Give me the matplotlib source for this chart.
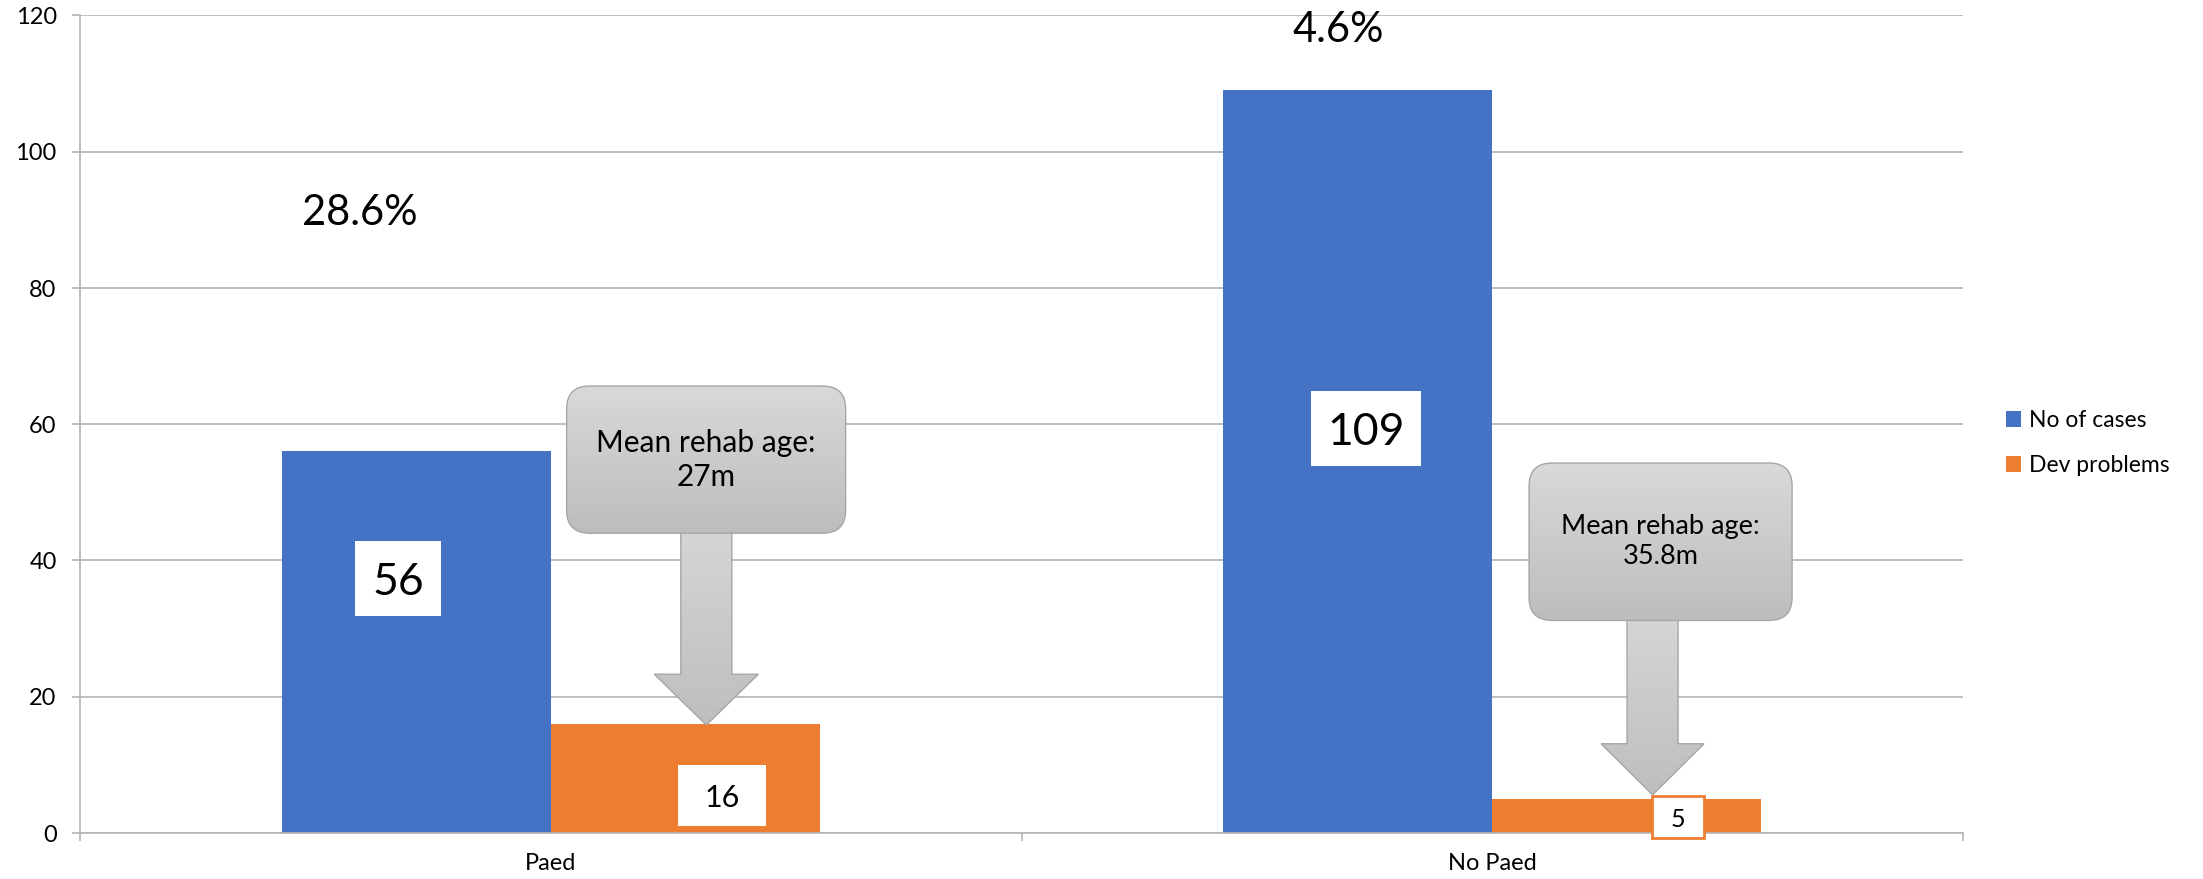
import numpy as np
import matplotlib
matplotlib.use("Agg")
import matplotlib.pyplot as plt
from matplotlib.patches import FancyBboxPatch, Polygon, Rectangle
from matplotlib.colors import LinearSegmentedColormap

# ---------------- data ----------------
categories = ["Paed", "No Paed"]
series_names = ["No of cases", "Dev problems"]
no_of_cases = [56, 109]
dev_problems = [16, 5]
pct_labels = ["28.6%", "4.6%"]
callout_texts = ["Mean rehab age:\n27m", "Mean rehab age:\n35.8m"]
yticks = [0, 20, 40, 60, 80, 100, 120]

# ---------------- style ----------------
plt.rcParams["font.family"] = ["Lato", "DejaVu Sans"]
BLUE = "#4472C4"
ORANGE = "#ED7D31"
GRID = "#B4B4B4"

W, H, DPI = 2203, 879, 100
fig = plt.figure(figsize=(W / DPI + 0.001, H / DPI + 0.001), dpi=DPI)
L, R, B, T = 80, 1963, 833, 15.5  # plot area in pixels
ax = fig.add_axes([L / W, 1 - B / H, (R - L) / W, (B - T) / H])

x = np.arange(len(categories))
bw = 1 / 3.5  # gap width 150%
b1 = ax.bar(x - bw / 2, no_of_cases, bw, color=BLUE, label=series_names[0], zorder=2)
b2 = ax.bar(x + bw / 2, dev_problems, bw, color=ORANGE, label=series_names[1], zorder=2)

ax.set_xlim(-0.5, len(categories) - 0.5)
ax.set_ylim(0, 120)
PXX = (R - L) / len(categories)   # pixels per x unit
PXY = (B - T) / 120.0             # pixels per y unit

# axes styling
for s in ["top", "right"]:
    ax.spines[s].set_visible(False)
for s in ["left", "bottom"]:
    ax.spines[s].set_color(GRID)
    ax.spines[s].set_linewidth(1.2)
ax.set_yticks(yticks)
ax.yaxis.grid(True, color=GRID, lw=1.2)
ax.set_axisbelow(True)
ax.tick_params(axis="y", length=5.8, color=GRID, width=1.2, pad=11, labelsize=17)
ax.set_xticks(x, categories)
ax.tick_params(axis="x", which="major", length=0, pad=14, labelsize=17)
ax.set_xticks(np.arange(len(categories) + 1) - 0.5, minor=True)
ax.tick_params(axis="x", which="minor", length=5.8, color=GRID, width=1.2)

# ---------------- callouts ----------------
def gradient_fill(patch, extent, c_top, c_bot, z):
    cmap = LinearSegmentedColormap.from_list("g", [c_top, c_bot])
    grad = np.linspace(0, 1, 256).reshape(-1, 1)
    im = ax.imshow(grad, extent=extent, origin="upper", aspect="auto",
                   cmap=cmap, interpolation="bilinear", zorder=z)
    im.set_clip_path(patch)


def callout(box_cx, box_wpx, box_top, box_bot, arr_cx, shaft_px, head_px,
            head_base, tip_y, text, fs):
    sw = shaft_px / PXX / 2
    hw = head_px / PXX / 2
    pts = [(arr_cx - sw, box_bot + 1), (arr_cx + sw, box_bot + 1),
           (arr_cx + sw, head_base), (arr_cx + hw, head_base),
           (arr_cx, tip_y), (arr_cx - hw, head_base), (arr_cx - sw, head_base)]
    arr = Polygon(pts, closed=True, facecolor="none", edgecolor="#A6A6A6",
                  lw=1.0, zorder=3.2)
    ax.add_patch(arr)
    gradient_fill(arr, [arr_cx - hw, arr_cx + hw, tip_y, box_bot + 1],
                  "#D6D6D6", "#BEBEBE", 3.1)
    bw_ = box_wpx / PXX
    rad = 23 / PXX
    box = FancyBboxPatch((box_cx - bw_ / 2, box_bot), bw_, box_top - box_bot,
                         boxstyle=f"round,pad=0,rounding_size={rad}",
                         mutation_aspect=PXX / PXY,
                         facecolor="none", edgecolor="#A6A6A6", lw=1.0, zorder=3.4)
    ax.add_patch(box)
    gradient_fill(box, [box_cx - bw_ / 2, box_cx + bw_ / 2, box_bot, box_top],
                  "#D9D9D9", "#BDBDBD", 3.3)
    ax.text(box_cx, (box_top + box_bot) / 2, text, ha="center", va="center",
            fontsize=fs, linespacing=1.25, color="black", zorder=3.5)


callout(0.1650, 279, 65.6, 44.0, 0.1652, 51, 104, 23.3, 15.85, callout_texts[0], 21.5)
callout(1.1787, 263, 54.3, 31.2, 1.1702, 51, 103, 13.1, 5.6, callout_texts[1], 19.5)

# ---------------- labels ----------------
def boxed(xc, yc, wpx, hpx, txt, fs, edge=None):
    w = wpx / PXX
    h = hpx / PXY
    ax.add_patch(Rectangle((xc - w / 2, yc - h / 2), w, h, facecolor="white",
                           edgecolor=edge if edge else "none",
                           lw=2 if edge else 0, zorder=4, clip_on=False))
    ax.text(xc, yc, txt, ha="center", va="center_baseline", fontsize=fs,
            zorder=5, clip_on=False)


boxed(-0.162, 37.4, 86, 75, str(no_of_cases[0]), 32)
boxed(0.866, 59.4, 110, 75, str(no_of_cases[1]), 32)
boxed(0.182, 5.5, 88, 61, str(dev_problems[0]), 22)
boxed(1.197, 2.35, 52, 42, str(dev_problems[1]), 18, edge=ORANGE)

ax.text(-0.2026, 91.5, pct_labels[0], ha="center", va="center_baseline", fontsize=30)
ax.text(0.836, 118.4, pct_labels[1], ha="center", va="center_baseline", fontsize=30,
        clip_on=False)

ax.set_xlim(-0.5, len(categories) - 0.5)
ax.set_ylim(0, 120)

ax.legend(handles=[b1, b2], loc="center left",
          bbox_to_anchor=(2006 / W, 1 - 443 / H), bbox_transform=fig.transFigure,
          frameon=False, fontsize=16.5, handlelength=0.65, handleheight=0.65,
          handletextpad=0.35, labelspacing=1.05, borderpad=0, borderaxespad=0)

fig.savefig("out.png", dpi=DPI)
